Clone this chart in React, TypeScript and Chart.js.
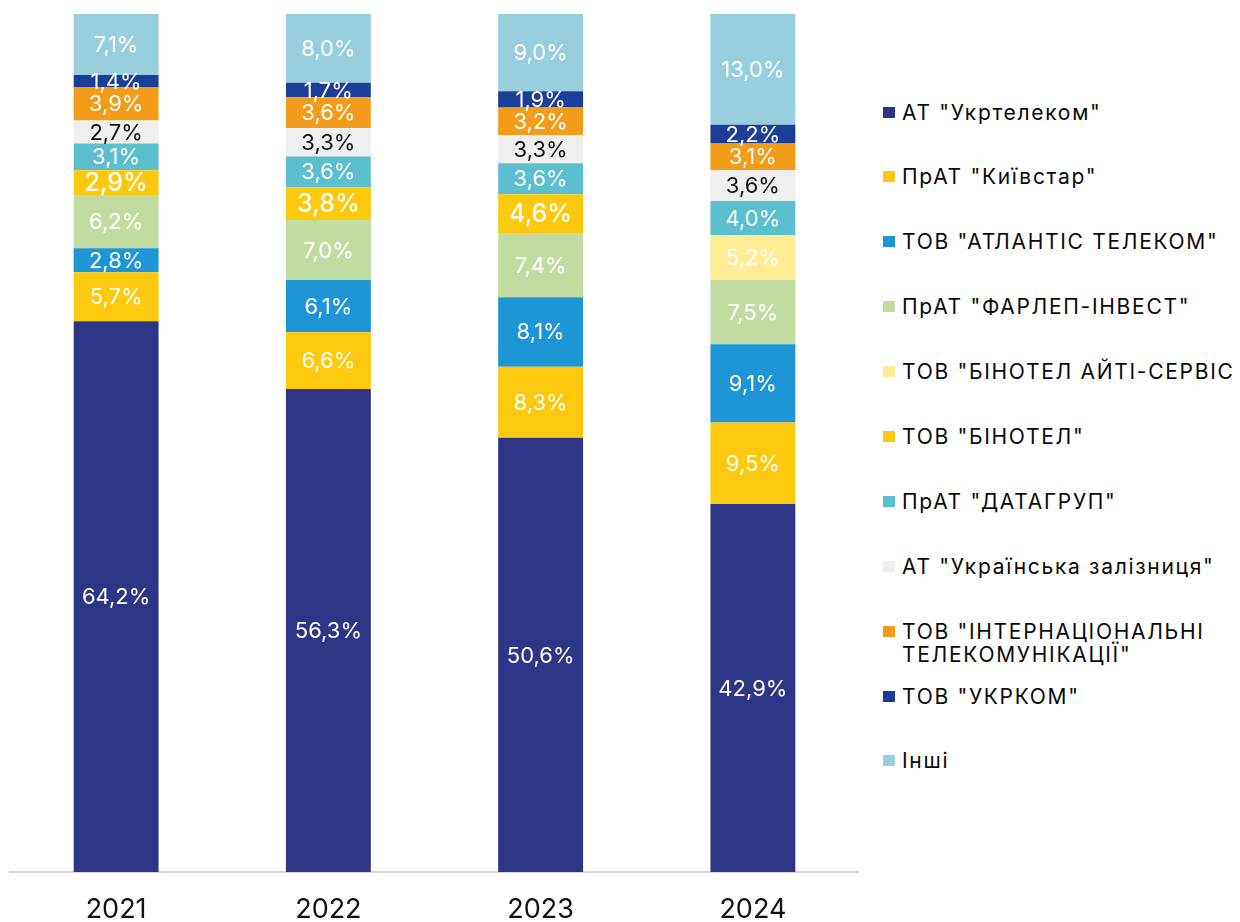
import React, { useEffect, useRef } from "react";
import { Chart, registerables } from "chart.js";

Chart.register(...registerables);

const years = ["2021", "2022", "2023", "2024"];

const seriesNames = [
  'АТ "Укртелеком"',
  'ПрАТ "Київстар"',
  'ТОВ "АТЛАНТІС ТЕЛЕКОМ"',
  'ПрАТ "ФАРЛЕП-ІНВЕСТ"',
  'ТОВ "БІНОТЕЛ АЙТІ-СЕРВІС"',
  'ТОВ "БІНОТЕЛ"',
  'ПрАТ "ДАТАГРУП"',
  'АТ "Українська залізниця"',
  'ТОВ "ІНТЕРНАЦІОНАЛЬНІ ТЕЛЕКОМУНІКАЦІЇ"',
  'ТОВ "УКРКОМ"',
  "Інші",
];

const ukrtelecom = [64.2, 56.3, 50.6, 42.9];
const kyivstar = [5.7, 6.6, 8.3, 9.5];
const atlantis = [2.8, 6.1, 8.1, 9.1];
const farlep = [6.2, 7.0, 7.4, 7.5];
const binotelIt = [null, null, null, 5.2];
const binotel = [2.9, 3.8, 4.6, null];
const datagroup = [3.1, 3.6, 3.6, 4.0];
const railways = [2.7, 3.3, 3.3, 3.6];
const intTelecom = [3.9, 3.6, 3.2, 3.1];
const ukrcom = [1.4, 1.7, 1.9, 2.2];
const others = [7.1, 8.0, 9.0, 13.0];

const seriesValues = [
  ukrtelecom, kyivstar, atlantis, farlep, binotelIt, binotel,
  datagroup, railways, intTelecom, ukrcom, others,
];

const seriesColors = [
  "#2E3586", "#FDC90F", "#1E96D6", "#C2DBA0", "#FFEC94", "#FDC90F",
  "#5BBFD0", "#F0EFF0", "#F39C19", "#1B3E99", "#98CFDD",
];

const FONT = "Inter, 'Noto Sans', sans-serif";

const labelPlugin = {
  id: "segLabels",
  afterDatasetsDraw(chart: any) {
    const ctx = chart.ctx;
    ctx.save();
    ctx.textAlign = "center";
    ctx.textBaseline = "middle";
    chart.data.datasets.forEach((ds: any, di: number) => {
      const meta = chart.getDatasetMeta(di);
      meta.data.forEach((el: any, i: number) => {
        const v = ds.data[i];
        if (v == null) return;
        const big = di === 5;
        ctx.font = big ? `500 25px ${FONT}` : `400 22px ${FONT}`;
        ctx.fillStyle = di === 7 ? "#111111" : "#FFFFFF";
        const txt = v.toFixed(1).replace(".", ",") + "%";
        ctx.fillText(txt, el.x, (el.y + el.base) / 2 + 1);
      });
    });
    ctx.restore();
  },
};

export default function App() {
  const ref = useRef<HTMLCanvasElement>(null);
  useEffect(() => {
    if (!ref.current) return;
    const chart = new Chart(ref.current, {
      type: "bar",
      data: {
        labels: years,
        datasets: seriesNames.map((n, i) => ({
          label: n,
          data: seriesValues[i] as any,
          backgroundColor: seriesColors[i],
          borderWidth: 0,
          barPercentage: 0.4,
          categoryPercentage: 1,
          stack: "s",
        })),
      },
      options: {
        animation: false,
        responsive: false,
        maintainAspectRatio: false,
        layout: { padding: { left: 2, right: 0, top: 6, bottom: 0 } },
        plugins: {
          legend: { display: false },
          tooltip: { enabled: false },
        },
        scales: {
          x: {
            stacked: true,
            grid: { display: false, drawTicks: false },
            border: { display: true, color: "#D6D6D6", width: 2 },
            ticks: {
              padding: 22,
              color: "#111111",
              font: { family: FONT, size: 27 },
            },
            afterFit: (axis: any) => {
              axis.height = 50;
            },
          },
          y: {
            stacked: true,
            display: false,
            min: 0,
            max: 100,
          },
        },
      },
      plugins: [labelPlugin],
    });
    return () => chart.destroy();
  }, []);

  return (
    <div style={{ position: "relative", width: 1224, height: 914, overflow: "hidden" }}>
      <canvas
        ref={ref}
        width={851}
        height={914}
        style={{ position: "absolute", left: 0, top: 0, width: 851, height: 914 }}
      />
      <div
        style={{
          position: "absolute",
          left: 875,
          top: 92.5,
          width: 360,
          fontFamily: FONT,
          fontSize: 21,
          letterSpacing: "1.7px",
          color: "#0A0A0A",
        }}
      >
        {seriesNames.map((n, i) => (
          <div
            key={n}
            style={{
              position: "relative",
              height: 64.9,
              lineHeight: "23px",
              paddingLeft: 19,
              boxSizing: "border-box",
              whiteSpace: i === 8 ? "normal" : "nowrap",
            }}
          >
            <span
              style={{
                position: "absolute",
                left: 0,
                top: 6,
                width: 12,
                height: 11,
                background: seriesColors[i],
              }}
            />
            {n}
          </div>
        ))}
      </div>
    </div>
  );
}
